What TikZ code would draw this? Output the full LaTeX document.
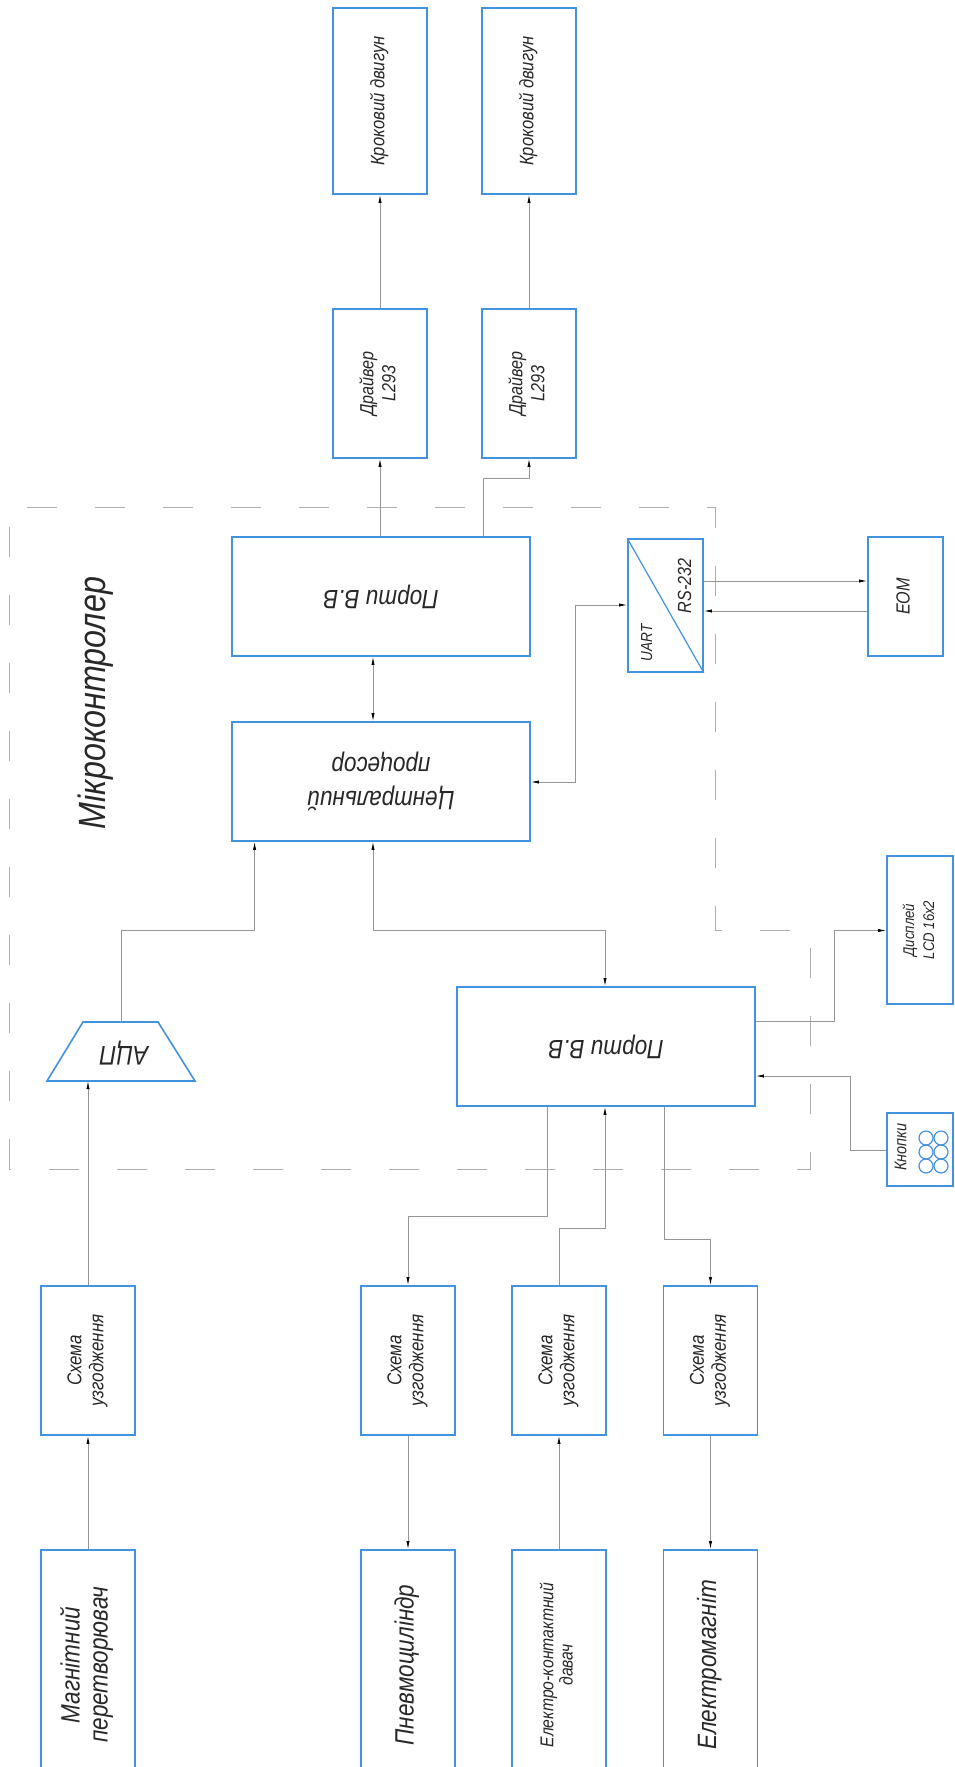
\documentclass[tikz,border=0pt]{standalone}
\usepackage{fontspec}
\setmainfont{Liberation Sans}[FakeStretch=0.85]
\usetikzlibrary{arrows.meta,calc}
\definecolor{boxblue}{RGB}{66,146,222}
\definecolor{conngray}{RGB}{150,150,150}
\definecolor{dashgray}{RGB}{175,175,175}
\definecolor{txt}{RGB}{40,40,40}
\newcommand{\rtext}[4]{\rotatebox{#1}{\fontsize{#2}{#3}\selectfont\itshape\begin{tabular}{@{}c@{}}#4\end{tabular}}}
\begin{document}
\begin{tikzpicture}[x=1pt,y=-1pt,
  box/.style={draw=boxblue, line width=1.6pt, inner sep=0pt, text=txt},
  conn/.style={draw=conngray, line width=0.8pt},
  arr/.style={conn, -{Latex[length=8pt,width=3.2pt,color=black]}},
  darr/.style={conn, {Latex[length=8pt,width=3.2pt,color=black]}-{Latex[length=8pt,width=3.2pt,color=black]}},
  lbl/.style={inner sep=0pt, text=txt},
  dashbox/.style={draw=dashgray, line width=1pt, dash pattern=on 30pt off 38pt}]
\useasboundingbox (0,0) rectangle (955,1767);
\fill[white] (0,0) rectangle (955,1767);
\clip (0,0) rectangle (955,1767);

% microcontroller frame
\draw[dashbox] (9,1169) -- (9,507) -- (715.6,507) -- (715.6,930.5) -- (810,930.5) -- (810,1169) -- cycle;
\node[lbl] (mk) at (97,703) {\rtext{90}{38}{40}{Мікроконтролер}};

% top column
\node[box, minimum width=94pt, minimum height=186pt] (k1) at (380,101) {\rtext{90}{19.5}{22}{Кроковий двигун}};
\node[box, minimum width=94pt, minimum height=186pt] (k2) at (529,101) {\rtext{90}{19.5}{22}{Кроковий двигун}};
\node[box, minimum width=94pt, minimum height=149pt] (d1) at (380,383.5) {\rtext{90}{19}{22}{Драйвер\\L293}};
\node[box, minimum width=94pt, minimum height=149pt] (d2) at (529,383.5) {\rtext{90}{19}{22}{Драйвер\\L293}};

\node[box, minimum width=298pt, minimum height=119pt] (pt) at (381,596.5) {\rtext{180}{26.5}{30}{Порти В.В}};
\node[box, minimum width=298pt, minimum height=119pt] (cp) at (381,781.5) {\rtext{180}{26.5}{34}{Центральний\\процесор}};

% UART
\node[box, minimum width=75pt, minimum height=133pt] (uart) at (665.5,605.5) {};
\draw[draw=boxblue, line width=1.2pt] (uart.north west) -- (uart.south east);
\node[lbl] (uartt) at (648,643) {\rtext{90}{16}{20}{UART}};
\node[lbl] (rst) at (687,586) {\rtext{90}{19}{20}{RS-232}};
\node[box, minimum width=75pt, minimum height=119pt] (eom) at (905.5,596.5) {\rtext{90}{19}{20}{ЕОМ}};

% ADC
\coordinate (adctop) at (121,1022);
\coordinate (adcbot) at (88,1081);
\draw[draw=boxblue, line width=1.6pt] (47,1081) -- (83,1022) -- (158,1022) -- (195,1081) -- cycle;
\node[lbl] (adc) at (124,1052) {\rtext{180}{27}{30}{АЦП}};

% lower ports
\node[box, minimum width=298pt, minimum height=119pt] (pb) at (606,1046.5) {\rtext{180}{26.5}{30}{Порти В.В}};
\node[box, minimum width=66pt, minimum height=148pt] (disp) at (920,930) {\rtext{90}{15.5}{20}{Дисплей\\LCD 16x2}};
\node[box, minimum width=66pt, minimum height=73pt] (btn) at (920,1149.5) {};
\node[lbl] (btnt) at (903,1147) {\rtext{90}{17}{17}{Кнопки}};
\foreach \cx in {926,941} \foreach \cy in {1138,1152,1166}
  \draw[draw=boxblue, line width=1.2pt] (\cx,\cy) circle (7);

% matching circuits
\node[box, minimum width=94pt, minimum height=149pt] (s1) at (88,1360.5) {\rtext{90}{20}{22}{Схема\\узгодження}};
\node[box, minimum width=94pt, minimum height=149pt] (s2) at (408,1360.5) {\rtext{90}{20}{22}{Схема\\узгодження}};
\node[box, minimum width=94pt, minimum height=149pt] (s3) at (559,1360.5) {\rtext{90}{20}{22}{Схема\\узгодження}};
\node[box, minimum width=94pt, minimum height=149pt] (s4) at (710.5,1360.5) {\rtext{90}{20}{22}{Схема\\узгодження}};

% bottom devices
\node[box, minimum width=94pt, minimum height=230pt] (m1) at (88,1665) {\rtext{90}{26.5}{28}{Магнітний\\перетворювач}};
\node[box, minimum width=94pt, minimum height=230pt] (m2) at (408,1665) {\rtext{90}{26.5}{28}{Пневмоциліндр}};
\node[box, minimum width=94pt, minimum height=230pt] (m3) at (559,1665) {\rtext{90}{18.5}{19}{Електро-контактний\\давач}};
\node[box, minimum width=94pt, minimum height=230pt] (m4) at (710.5,1665) {\rtext{90}{26.5}{28}{Електромагніт}};

% helper coordinates
\coordinate (e1) at (483,478);
\coordinate (cA) at (373,930.5);
\coordinate (cB) at (605,930.5);
\coordinate (aA) at (121,930.5);
\coordinate (aB) at (254.6,930.5);
\coordinate (uA) at (575.5,782);
\coordinate (uB) at (575.5,605);
\coordinate (r1) at (0,581);
\coordinate (r2) at (0,611);
\coordinate (pA) at (834,1021.6);
\coordinate (pB) at (834,930.5);
\coordinate (bA) at (850,1150);
\coordinate (bB) at (850,1076);
\coordinate (q1) at (547,1216);
\coordinate (q2) at (605,1228);
\coordinate (q3) at (664,1239);

% connectors
\draw[arr] (d1.north) -- (k1.south);
\draw[arr] (d2.north) -- (k2.south);
\draw[arr] (pt.north -| d1.south) -- (d1.south);
\draw[arr] (pt.north -| e1) -- (e1) -| (d2.south);
\draw[darr] (pt.south -| cA) -- (cp.north -| cA);
\draw[darr] (cp.south -| cA) -- (cA) -- (cB) -- (pb.north -| cB);
\draw[arr] (adctop) -- (aA) -- (aB) -- (cp.south -| aB);
\draw[darr] (cp.east |- uA) -- (uA) -- (uB) -- (uart.west |- uB);
\draw[arr] (uart.east |- r1) -- (eom.west |- r1);
\draw[arr] (eom.west |- r2) -- (uart.east |- r2);
\draw[arr] (pb.east |- pA) -- (pA) -- (pB) -- (disp.west |- pB);
\draw[arr] (btn.west |- bA) -- (bA) -- (bB) -- (pb.east |- bB);
\draw[arr] (pb.south -| q1) -- (q1) -| (s2.north);
\draw[arr] (s3.north) |- (q2) -- (pb.south -| q2);
\draw[arr] (pb.south -| q3) -- (q3) -| (s4.north);
\draw[arr] (s1.north) -- (adcbot);
\draw[arr] (m1.north) -- (s1.south);
\draw[arr] (s2.south) -- (m2.north);
\draw[arr] (m3.north) -- (s3.south);
\draw[arr] (s4.south) -- (m4.north);
\end{tikzpicture}
\end{document}
